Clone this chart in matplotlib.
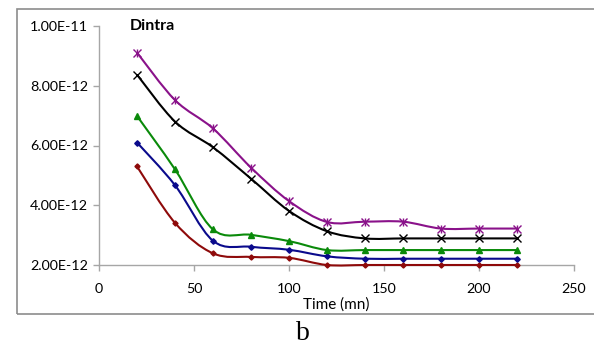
import matplotlib
matplotlib.use("Agg")
import matplotlib.pyplot as plt
from matplotlib.path import Path
from matplotlib.patches import PathPatch, Rectangle
from matplotlib.ticker import FuncFormatter
import numpy as np

plt.rcParams['font.family'] = ['Lato', 'DejaVu Sans']

# ---- data ----
time_mn = [20, 40, 60, 80, 100, 120, 140, 160, 180, 200, 220]
s_purple = [9.11e-12, 7.52e-12, 6.57e-12, 5.26e-12, 4.14e-12, 3.44e-12, 3.45e-12, 3.45e-12, 3.22e-12, 3.22e-12, 3.22e-12]
s_black = [8.37e-12, 6.80e-12, 5.94e-12, 4.89e-12, 3.81e-12, 3.13e-12, 2.89e-12, 2.89e-12, 2.89e-12, 2.89e-12, 2.89e-12]
s_green = [6.99e-12, 5.20e-12, 3.19e-12, 3.01e-12, 2.80e-12, 2.50e-12, 2.50e-12, 2.50e-12, 2.50e-12, 2.50e-12, 2.50e-12]
s_blue = [6.10e-12, 4.67e-12, 2.81e-12, 2.61e-12, 2.51e-12, 2.29e-12, 2.21e-12, 2.21e-12, 2.21e-12, 2.21e-12, 2.21e-12]
s_red = [5.30e-12, 3.41e-12, 2.39e-12, 2.27e-12, 2.24e-12, 2.00e-12, 2.00e-12, 2.00e-12, 2.00e-12, 2.00e-12, 2.00e-12]
x_ticks = [0, 50, 100, 150, 200, 250]
y_ticks = [2e-12, 4e-12, 6e-12, 8e-12, 1e-11]
title_text = "Dintra"
xlabel_text = "Time (mn)"
panel_label = "b"

fig = plt.figure(figsize=(5.94, 3.45), dpi=100)
fig.patch.set_facecolor('white')

# outer chart frame
fig.add_artist(Rectangle((17/594, 1-314/345), 1.2, (314-9)/345,
                         transform=fig.transFigure, fill=False,
                         edgecolor='#8c8c8c', linewidth=1.2, zorder=0))

ax = fig.add_axes([99/594, 1-265/345, (574-99)/594, (265-26)/345])
ax.set_xlim(0, 250)
ax.set_ylim(2e-12, 1e-11)


def smooth_path(xs, ys):
    pts = list(zip(xs, ys))
    n = len(pts)
    verts = [pts[0]]
    codes = [Path.MOVETO]
    for i in range(n - 1):
        p0 = pts[i - 1] if i > 0 else pts[i]
        p1 = pts[i]
        p2 = pts[i + 1]
        p3 = pts[i + 2] if i + 2 < n else pts[i + 1]
        c1 = (p1[0] + (p2[0] - p0[0]) / 6, p1[1] + (p2[1] - p0[1]) / 6)
        c2 = (p2[0] - (p3[0] - p1[0]) / 6, p2[1] - (p3[1] - p1[1]) / 6)
        verts += [c1, c2, p2]
        codes += [Path.CURVE4] * 3
    return Path(verts, codes)


series = [
    (s_red, '#8e0a0a', [('D', 2.6)]),
    (s_blue, '#0a0a8c', [('D', 2.8)]),
    (s_green, '#0a8a0a', [('^', 3.8)]),
    (s_black, '#000000', [('x', 6.0)]),
    (s_purple, '#8a128a', [('x', 5.5), ('|', 6.0)]),
]

for ys, col, markers in series:
    patch = PathPatch(smooth_path(time_mn, ys), facecolor='none', edgecolor=col,
                      linewidth=1.5, transform=ax.transData, clip_on=False, zorder=3)
    ax.add_patch(patch)
    for m, ms in markers:
        ax.plot(time_mn, ys, linestyle='none', marker=m, markersize=ms,
                color=col, markeredgecolor=col, markeredgewidth=1.0,
                clip_on=False, zorder=4)

ax.set_xticks(x_ticks)
ax.set_yticks(y_ticks)
ax.yaxis.set_major_formatter(FuncFormatter(lambda v, p: '{:.2E}'.format(v)))
for s in ['top', 'right']:
    ax.spines[s].set_visible(False)
for s in ['left', 'bottom']:
    ax.spines[s].set_color('#a6a6a6')
    ax.spines[s].set_linewidth(1.0)
ax.tick_params(axis='both', direction='out', length=4, width=1.0, color='#a6a6a6',
               labelsize=10.3, labelcolor='#000000', pad=4)
ax.tick_params(axis='x', pad=9)
ax.patch.set_alpha(0)

fig.text(130/594, 1-26/345, title_text, fontsize=11.5, fontweight='bold',
         ha='left', va='center')
fig.text(336/594, 1-305/345, xlabel_text, fontsize=11, ha='center', va='center')
fig.text(303/594, 1-334/345, panel_label, fontsize=20, ha='center', va='center',
         family=['Liberation Serif', 'DejaVu Serif'])

fig.savefig('out.png', dpi=100)
